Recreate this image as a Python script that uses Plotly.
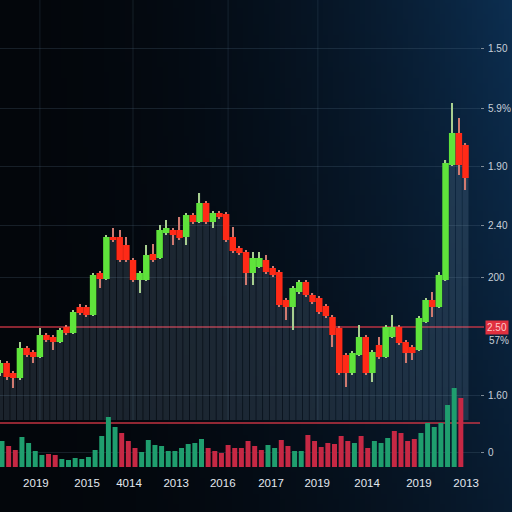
import zlib, struct, base64
import numpy as np
import plotly.graph_objects as go

# ---------------- data (price units on the chart's own scale) ----------------
opens  = [94,104,94,89,119,115,110,132,130,125,140,134,160,160,152,194,188,230,230,222,
          207,187,187,213,209,234,237,237,230,252,245,264,245,254,253,230,219,215,194,200,
          207,199,195,167,160,175,185,172,169,161,150,139,112,94,112,130,94,122,110,130,
          140,125,120,117,145,167,160,187,302,334,322]
closes = [104,90,89,119,112,110,132,127,125,137,134,155,154,152,192,188,230,227,207,207,
          187,194,212,207,237,239,232,229,252,245,264,245,254,250,227,216,214,194,209,209,
          195,192,162,160,179,185,172,165,155,151,132,94,94,114,130,94,115,110,140,140,
          124,114,114,149,167,160,192,304,334,302,289]
highs  = [107,106,96,125,121,117,139,134,132,139,142,157,163,162,194,196,232,239,237,230,
          209,196,222,223,242,247,239,250,254,254,274,266,256,256,255,240,221,217,215,215,
          212,201,197,169,181,187,187,174,171,163,152,141,114,116,142,132,117,130,142,152,
          142,127,122,151,169,175,195,307,364,349,324]
lows   = [91,87,79,87,110,104,109,125,117,124,132,133,152,150,151,179,187,225,205,205,
          185,174,186,205,208,232,222,227,222,243,244,243,239,248,225,214,212,182,182,199,
          193,190,160,147,137,173,170,163,153,149,120,92,80,92,111,92,85,108,109,129,
          122,104,107,116,144,150,159,186,301,292,277]

volumes = [26,21,17,30,24,16,12,13,12,8,7,9,8,10,17,31,50,40,34,26,
           19,15,27,22,21,16,16,19,23,24,28,19,16,14,22,19,19,26,21,17,
           22,19,27,21,16,16,32,26,20,24,23,31,26,24,31,19,26,24,29,36,
           34,26,28,34,44,40,44,62,79,69]
vol_up  = [1,0,0,1,1,1,1,0,0,1,1,1,1,1,1,1,1,1,0,0,
           0,1,1,1,1,1,1,1,1,1,1,0,0,0,0,0,0,0,0,0,
           1,1,0,0,1,1,0,0,0,0,0,0,0,1,0,0,1,1,1,0,
           0,0,0,1,1,1,1,1,1,0]

y_tick_vals  = [419, 359, 301, 242, 190, 72, 15]
y_tick_text  = ["1.50", "5.9%", "1.90", "2.40", "200", "1.60", "0"]
x_tick_vals  = [5.4, 13.1, 19.4, 26.5, 33.5, 40.75, 47.7, 55.2, 63.0, 70.1]
x_tick_text  = ["2019", "2015", "4014", "2013", "2016", "2017", "2019", "2014", "2019", "2013"]
grid_x       = [6.0, 20.0, 34.3, 47.8]
price_line   = 140
volume_line  = 44
shade_floor  = 47
badge_text   = "2.50"
badge_sub    = "57%"

# ---------------- styling ----------------
UP, DOWN = "#5fe33b", "#ff2a17"
UP_WICK, DOWN_WICK = "#a8cf90", "#d07a70"
VOL_UP, VOL_DOWN = "#1f9e6e", "#c62844"

n = len(opens)
idx = np.arange(n)
o = np.array(opens); c = np.array(closes)
h = np.array(highs); l = np.array(lows)
up = c >= o
body_base = np.minimum(o, c)
body_h = np.maximum(np.abs(c - o), 1)

# background gradient image
def bg_color(u, w):
    f = (u ** 2.0) * (1 - 0.45 * w)
    d = np.array([3, 6, 11]); b = np.array([12, 46, 80])
    col = d + f * (b - d)
    return tuple(int(round(v)) for v in col)

def make_png(W, H):
    raw = bytearray()
    for j in range(H):
        raw.append(0)
        for i in range(W):
            raw += bytes(bg_color(i / (W - 1), j / (H - 1)))
    def chunk(t, d):
        return struct.pack('>I', len(d)) + t + d + struct.pack('>I', zlib.crc32(t + d) & 0xffffffff)
    png = (b'\x89PNG\r\n\x1a\n' + chunk(b'IHDR', struct.pack('>IIBBBBB', W, H, 8, 2, 0, 0, 0))
           + chunk(b'IDAT', zlib.compress(bytes(raw))) + chunk(b'IEND', b''))
    return 'data:image/png;base64,' + base64.b64encode(png).decode()

fig = go.Figure()

# shaded columns below candles
fig.add_trace(go.Bar(x=idx, y=body_base - shade_floor, base=shade_floor, width=0.9,
                     marker=dict(color="rgba(135,165,190,0.19)", line=dict(width=0)),
                     hoverinfo="skip", showlegend=False))
# volume bars
vol_x = np.arange(len(volumes)) + 0.3
fig.add_trace(go.Bar(x=vol_x, y=volumes, base=0, width=0.75,
                     marker=dict(color=[VOL_UP if u else VOL_DOWN for u in vol_up], line=dict(width=0)),
                     hoverinfo="skip", showlegend=False))
# wicks
fig.add_trace(go.Bar(x=idx, y=h - l, base=l, width=0.17,
                     marker=dict(color=[UP_WICK if u else DOWN_WICK for u in up], line=dict(width=0)),
                     hoverinfo="skip", showlegend=False))
# bodies
fig.add_trace(go.Bar(x=idx, y=body_h, base=body_base, width=0.98,
                     marker=dict(color=[UP if u else DOWN for u in up], line=dict(width=0)),
                     hoverinfo="skip", showlegend=False))

shapes = []
for gx in grid_x:
    shapes.append(dict(type="line", xref="x", yref="y", x0=gx, x1=gx, y0=shade_floor, y1=467,
                       line=dict(color="rgba(90,120,140,0.2)", width=1), layer="below"))
shapes.append(dict(type="line", xref="paper", yref="y", x0=0, x1=484/512, y0=price_line, y1=price_line,
                   line=dict(color="rgba(215,55,70,0.85)", width=1.3), layer="below"))
shapes.append(dict(type="line", xref="paper", yref="y", x0=0, x1=480/512, y0=volume_line, y1=volume_line,
                   line=dict(color="rgba(215,55,70,0.9)", width=1.3), layer="below"))

fig.update_layout(
    width=512, height=512,
    margin=dict(l=0, r=0, t=0, b=0, autoexpand=False),
    paper_bgcolor="#03060b", plot_bgcolor="rgba(0,0,0,0)",
    barmode="overlay", showlegend=False,
    font=dict(family="Liberation Sans, Arial, sans-serif", color="#c8d0d9", size=11),
    images=[dict(source=make_png(96, 96), xref="paper", yref="paper", x=0, y=1, sizex=1, sizey=1,
                 sizing="stretch", xanchor="left", yanchor="top", layer="below")],
    shapes=shapes,
    xaxis=dict(domain=[0, 480/512], range=[0, 480/6.65], showgrid=False, zeroline=False,
               automargin=False,
               tickvals=x_tick_vals, ticktext=x_tick_text, ticks="outside", ticklen=5,
               tickcolor="rgba(0,0,0,0)", tickfont=dict(color="#e2e8ef", size=11.5), showline=False),
    yaxis=dict(domain=[45/512, 1], range=[0, 467], side="right", zeroline=False,
               automargin=False,
               tickvals=y_tick_vals, ticktext=y_tick_text, ticks="outside", ticklen=3,
               ticklabelstandoff=2,
               tickcolor="#7d8995", gridcolor="rgba(95,125,145,0.22)", gridwidth=1,
               tickfont=dict(color="#c8d0d9", size=10), showline=False),
    annotations=[
        dict(xref="paper", yref="y", x=485/512, y=price_line, xanchor="left", yanchor="middle",
             text=badge_text, showarrow=False, bgcolor="#e0303f", borderpad=1,
             font=dict(color="#ffc9c9", size=10)),
        dict(xref="paper", yref="y", x=487/512, y=price_line - 13, xanchor="left", yanchor="middle",
             text=badge_sub, showarrow=False, font=dict(color="#c8d0d9", size=10)),
    ],
)

fig.write_html("out.html")
